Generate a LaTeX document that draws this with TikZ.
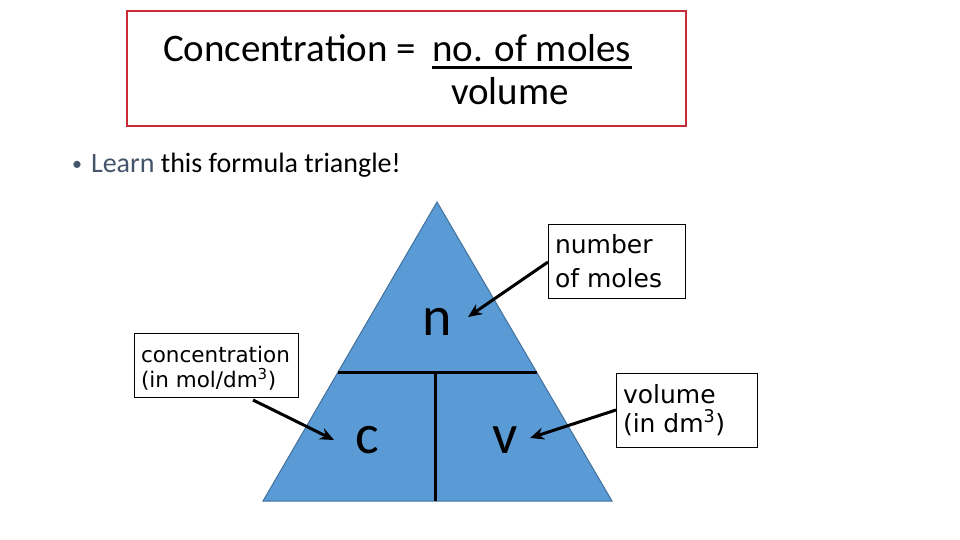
\documentclass[tikz,border=0pt]{standalone}
\usepackage{fontspec}
\setmainfont{Carlito}
\newfontfamily\labfont{DejaVu Sans}
\usetikzlibrary{arrows.meta}
\definecolor{boxred}{RGB}{200,45,55}
\definecolor{triblue}{RGB}{91,155,213}
\definecolor{triedge}{RGB}{65,113,156}
\definecolor{learngray}{RGB}{68,84,106}
\tikzset{
  plain/.style={inner sep=0pt, outer sep=0pt},
  titletxt/.style={plain, font=\fontsize{39}{42}\selectfont},
  lab/.style={draw=black, line width=0.8pt, inner sep=0pt, anchor=north west},
  labtxt/.style={plain, anchor=base west, font=\labfont\fontsize{#1}{#1}\selectfont},
  letter/.style={plain, anchor=base, font=\fontsize{56}{60}\selectfont},
  pointer/.style={line width=3pt, -{Stealth[length=14pt,width=12pt]}},
  divider/.style={line width=3pt}
}
\begin{document}
\begin{tikzpicture}[x=1pt,y=-1pt]
\useasboundingbox (0,0) rectangle (960,540);
\fill[white] (0,0) rectangle (960,540);
% title box
\node[draw=boxred, line width=2pt, minimum width=559pt, minimum height=115pt, inner sep=0pt, anchor=north west] (titlebox) at (126,10) {};
\node[titletxt, anchor=base west] (conc) at (163,62) {Concentration =};
\node[titletxt, anchor=base west] (num) at (432,62) {no. of moles};
\draw[line width=3pt] ([yshift=-6pt]num.base west) -- ([yshift=-6pt,xshift=1pt]num.base east);
\node[titletxt, anchor=base] (den) at (510,105) {volume};
% bullet
\node[plain, anchor=base west, font=\fontsize{20}{24}\selectfont, text=learngray] (bul) at (72,171) {\textbullet};
\node[plain, anchor=base west, font=\fontsize{28}{32}\selectfont] (learn) at (91,172) {\textcolor{learngray}{Learn} this formula triangle!};
% triangle
\coordinate (apex) at (437,202);
\coordinate (bl) at (263,501);
\coordinate (br) at (612,501);
\filldraw[fill=triblue, draw=triedge, line width=1pt] (apex) -- (br) -- (bl) -- cycle;
\coordinate (hl) at (338,372);
\coordinate (hr) at (537,372);
\coordinate (vt) at (435,372);
\coordinate (vb) at (435,501);
\draw[divider] (hl) -- (hr);
\draw[divider] (vt) -- (vb);
\node[letter] (n) at (437,335) {n};
\node[letter] (c) at (367,453) {c};
\node[letter] (v) at (505,453) {v};
% label boxes
\node[lab, minimum width=137pt, minimum height=74pt] (nbox) at (548,224) {};
\node[labtxt=25] at (555,253) {number};
\node[labtxt=25] at (555,287) {of moles};
\node[lab, minimum width=164pt, minimum height=64pt] (cbox) at (134,333) {};
\node[labtxt=21.5] at (141,362) {concentration};
\node[labtxt=21.5] at (141,387) {(in mol/dm\textsuperscript{3})};
\node[lab, minimum width=141pt, minimum height=74pt] (vbox) at (616,373) {};
\node[labtxt=25] at (623,403) {volume};
\node[labtxt=25] at (623,432) {(in dm\textsuperscript{3})};
% pointers
\coordinate (nfrom) at (548,262);
\coordinate (nto) at (468,317);
\coordinate (cfrom) at (253,400);
\coordinate (cto) at (334,440);
\coordinate (vfrom) at (616,410);
\coordinate (vto) at (530,438);
\draw[pointer] (nfrom) -- (nto);
\draw[pointer] (cfrom) -- (cto);
\draw[pointer] (vfrom) -- (vto);
\end{tikzpicture}
\end{document}
